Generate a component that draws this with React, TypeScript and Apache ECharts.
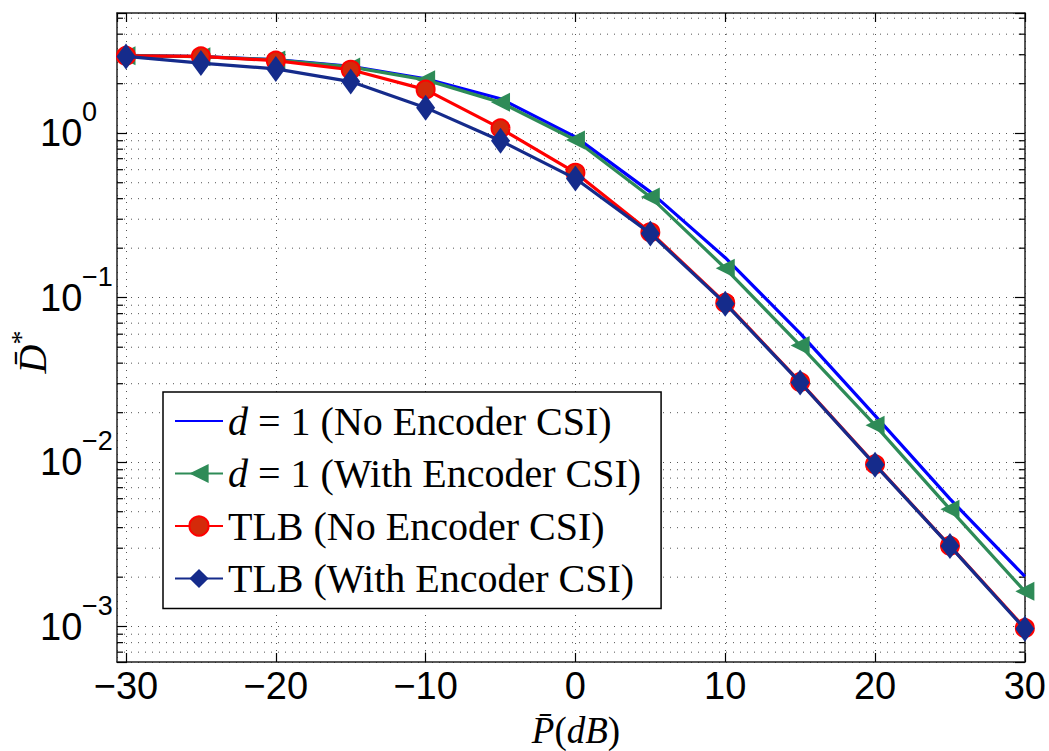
import React, { useEffect, useRef } from "react";
import * as echarts from "echarts";

// ---- data ----
const powerDb = [-30, -25, -20, -15, -10, -5, 0, 5, 10, 15, 20, 25, 30];
const d1NoCsi = [2.97, 2.92, 2.8, 2.55, 2.14, 1.62, 0.95, 0.44, 0.175, 0.0607, 0.0192, 0.00598, 0.00202];
const d1WithCsi = [2.96, 2.92, 2.79, 2.53, 2.11, 1.54, 0.91, 0.41, 0.151, 0.0513, 0.0168, 0.00518, 0.00164];
const tlbNoCsi = [2.95, 2.93, 2.76, 2.43, 1.84, 1.07, 0.575, 0.25, 0.093, 0.0307, 0.0097, 0.0031, 0.00098];
const tlbWithCsi = [2.93, 2.67, 2.46, 2.06, 1.43, 0.9, 0.53, 0.246, 0.092, 0.0305, 0.00964, 0.00309, 0.00097];

const seriesNames = [
  "d = 1 (No Encoder CSI)",
  "d = 1 (With Encoder CSI)",
  "TLB (No Encoder CSI)",
  "TLB (With Encoder CSI)",
];

// axis ranges / ticks
const xMin = -30.6;
const xMax = 30;
const yMin = 6.1e-4;
const yMax = 5.38;
const minorMantissas = [2, 3, 4, 5, 6, 7, 8, 9];
const decades = [1e-4, 1e-3, 1e-2, 1e-1, 1];

const minorValues: number[] = [];
decades.forEach((d) =>
  minorMantissas.forEach((m) => {
    const v = m * d;
    if (v > yMin && v < yMax) minorValues.push(v);
  })
);

const SANS = "Liberation Sans";
const SERIF = "Liberation Serif";
const GRID_COLOR = "#555";

export default function App() {
  const ref = useRef<HTMLDivElement>(null);

  useEffect(() => {
    if (!ref.current) return;
    const chart = echarts.init(ref.current, undefined, { renderer: "svg" });

    const pair = (ys: number[]) => powerDb.map((x, i) => [x, ys[i]]);

    const yLabelFormatter = (v: number) => {
      const e = Math.log10(v);
      const r = Math.round(e);
      if (Math.abs(e - r) > 1e-6) return "";
      return `{s|${r < 0 ? "\u2212" : ""}${Math.abs(r)}}\n{b|10}`;
    };
    const xLabelFormatter = (v: number) => {
      if (Math.abs(v - Math.round(v)) > 1e-6) return "";
      return v < 0 ? "\u2212" + Math.abs(v) : String(v);
    };

    const axisLineStyle = { color: "#222", width: 1.5 };

    const option: any = {
      animation: false,
      backgroundColor: "#fff",
      grid: { left: 117, right: 23, top: 13, bottom: 89, containLabel: false },
      xAxis: [
        {
          type: "value",
          min: xMin,
          max: xMax,
          splitNumber: 6,
          position: "bottom",
          axisLine: { show: true, onZero: false, lineStyle: axisLineStyle },
          axisTick: { show: true, inside: true, length: 9, lineStyle: { color: "#000", width: 1.2 } },
          axisLabel: {
            show: true,
            margin: 5,
            formatter: xLabelFormatter,
            fontFamily: SANS,
            fontSize: 38,
            color: "#000",
            showMinLabel: false,
          },
          splitLine: { show: true, lineStyle: { color: GRID_COLOR, width: 1, type: [1, 6] } },
        },
        {
          type: "value",
          min: xMin,
          max: xMax,
          splitNumber: 6,
          position: "top",
          axisLine: { show: true, onZero: false, lineStyle: axisLineStyle },
          axisTick: { show: true, inside: true, length: 9, lineStyle: { color: "#000", width: 1.2 } },
          axisLabel: { show: false },
          splitLine: { show: false },
        },
      ],
      yAxis: [
        {
          type: "log",
          logBase: 10,
          min: yMin,
          max: yMax,
          position: "left",
          axisLine: { show: true, onZero: false, lineStyle: axisLineStyle },
          axisTick: { show: true, inside: true, length: 10, lineStyle: { color: "#000", width: 1.2 } },
          axisLabel: {
            show: true,
            align: "left",
            margin: 77,
            formatter: yLabelFormatter,
            color: "#000",
            padding: [0, 0, 22, 0],
            rich: {
              b: { fontFamily: SANS, fontSize: 38, lineHeight: 20, color: "#000" },
              s: { fontFamily: SANS, fontSize: 27, lineHeight: 22, padding: [0, 0, 0, 42], color: "#000" },
            },
          },
          splitLine: { show: true, lineStyle: { color: GRID_COLOR, width: 1, type: [1, 6] } },
        },
        {
          type: "log",
          logBase: 10,
          min: yMin,
          max: yMax,
          position: "right",
          axisLine: { show: true, onZero: false, lineStyle: axisLineStyle },
          axisTick: { show: true, inside: true, length: 10, lineStyle: { color: "#000", width: 1.2 } },
          axisLabel: { show: false },
          splitLine: { show: false },
        },
      ],
      legend: {
        data: [
          { name: seriesNames[0], itemStyle: { opacity: 0 } },
          seriesNames[1],
          seriesNames[2],
          seriesNames[3],
        ],
        orient: "vertical",
        left: 163,
        top: 392,
        padding: [9, 20, 10, 11],
        itemGap: 12.5,
        itemWidth: 48,
        itemHeight: 24,
        borderColor: "#000",
        borderWidth: 1.5,
        backgroundColor: "#fff",
        selectedMode: false,
        formatter: (name: string) => name.replace(/^d /, "{i|d} "),
        textStyle: {
          fontFamily: SERIF,
          fontSize: 40,
          lineHeight: 40,
          color: "#000",
          rich: {
            i: { fontFamily: SERIF, fontStyle: "italic", fontSize: 40, lineHeight: 40, color: "#000" },
          },
        },
      },
      graphic: [
        {
          type: "text",
          x: 576,
          y: 730.5,
          style: {
            text: "{i|P\u0304}{r|(}{i|dB}{r|)}",
            align: "center",
            verticalAlign: "middle",
            fill: "#000",
            rich: {
              i: { fontFamily: SERIF, fontStyle: "italic", fontSize: 37, fill: "#000" },
              r: { fontFamily: SERIF, fontSize: 37, fill: "#000" },
            },
          },
        },
        {
          type: "text",
          x: 29,
          y: 352,
          rotation: Math.PI / 2,
          style: {
            text: "{i|D\u0304}{s|*}",
            align: "center",
            verticalAlign: "middle",
            fill: "#000",
            rich: {
              i: { fontFamily: SERIF, fontStyle: "italic", fontSize: 40, lineHeight: 40, verticalAlign: "bottom", fill: "#000" },
              s: { fontFamily: SERIF, fontSize: 28, lineHeight: 46, verticalAlign: "top", fill: "#000" },
            },
          },
        },
      ],
      series: [
        {
          type: "custom",
          name: "minor-grid",
          silent: true,
          z: 1,
          xAxisIndex: 0,
          yAxisIndex: 0,
          clip: false,
          encode: { x: 0, y: 1 },
          data: minorValues.map((v) => [0, v]),
          renderItem: (params: any, api: any) => {
            const cs = params.coordSys;
            const y = api.coord([0, api.value(1)])[1];
            const left = cs.x;
            const right = cs.x + cs.width;
            return {
              type: "group",
              children: [
                {
                  type: "line",
                  shape: { x1: left, y1: y, x2: right, y2: y },
                  style: { stroke: GRID_COLOR, lineWidth: 1, lineDash: [1, 6] },
                },
                {
                  type: "line",
                  shape: { x1: left, y1: y, x2: left + 6, y2: y },
                  style: { stroke: "#000", lineWidth: 1.2 },
                },
                {
                  type: "line",
                  shape: { x1: right - 6, y1: y, x2: right, y2: y },
                  style: { stroke: "#000", lineWidth: 1.2 },
                },
              ],
            };
          },
        },
        {
          name: seriesNames[0],
          type: "line",
          data: pair(d1NoCsi),
          symbol: "none",
          z: 3,
          lineStyle: { color: "#0000ff", width: 3.2 },
          itemStyle: { color: "#0000ff" },
        },
        {
          name: seriesNames[1],
          type: "line",
          data: pair(d1WithCsi),
          symbol: "triangle",
          symbolRotate: 90,
          symbolSize: 19,
          z: 3,
          lineStyle: { color: "#2e8b57", width: 3.2 },
          itemStyle: { color: "#2e8b57" },
        },
        {
          name: seriesNames[2],
          type: "line",
          data: pair(tlbNoCsi),
          symbol: "circle",
          symbolSize: 18,
          z: 4,
          lineStyle: { color: "#ff0000", width: 3.2 },
          itemStyle: { color: "#d42a0a", borderColor: "#ff0000", borderWidth: 2 },
        },
        {
          name: seriesNames[3],
          type: "line",
          data: pair(tlbWithCsi),
          symbol: "diamond",
          symbolSize: [19, 26],
          z: 5,
          lineStyle: { color: "#152b8b", width: 3.2 },
          itemStyle: { color: "#152b8b" },
        },
      ],
    };

    chart.setOption(option);
    return () => chart.dispose();
  }, []);

  return (
    <div
      ref={ref}
      style={{ position: "fixed", left: 0, top: 0, width: 1049, height: 751, background: "#fff" }}
    />
  );
}
